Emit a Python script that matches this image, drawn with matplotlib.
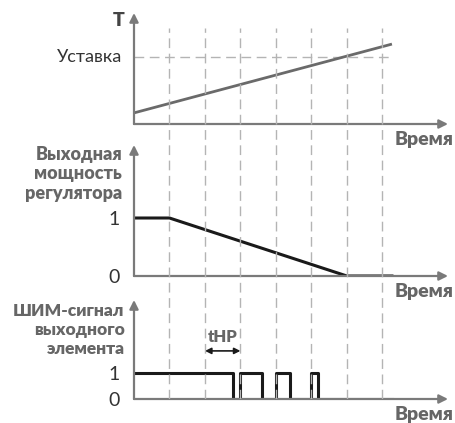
import matplotlib
matplotlib.use('Agg')
import matplotlib.pyplot as plt

plt.rcParams['font.family'] = ['Lato', 'DejaVu Sans']

# time grid (periods of the PWM)
grid_t = [1, 2, 3, 4, 5, 6, 7]
t_end = 7.27
x_max = 8.85

# temperature
temp_t = [0, t_end]
temp_v = [0.10, 0.72]
setpoint = 0.604

# controller output power
power_t = [0, 1, 6, t_end]
power_v = [1, 1, 0, 0]

# PWM output
pwm_t = [0, 2.8, 3, 3.6, 4, 4.4, 5, 5.2, t_end]
pwm_v = [1, 0, 1, 0, 1, 0, 1, 0, 0]

axis_c = '#7a7a7a'
lab_c = '#666666'
grid_c = '#b4b4b4'

fig = plt.figure(figsize=(4.55, 4.23), dpi=100)
W, H = 455, 423


def px_axes(left, top, right, bottom):
    return fig.add_axes([left / W, 1 - bottom / H, (right - left) / W, (bottom - top) / H])


ax1 = px_axes(134, 13, 448, 124)
ax2 = px_axes(134, 145, 448, 276)
ax3 = px_axes(134, 300, 448, 399)
over = px_axes(134, 28, 448, 399)

for ax in (ax1, ax2, ax3, over):
    ax.set_xlim(0, x_max)
    for s in ax.spines.values():
        s.set_visible(False)
    ax.set_xticks([])
    ax.patch.set_alpha(0)

ax1.set_ylim(0, 1)
ax2.set_ylim(0, 131 / 58)
ax3.set_ylim(0, 99 / 26)
over.set_ylim(0, 1)
over.axis('off')

# dashed period lines through all panels
over.vlines(grid_t, 0, 1, colors=grid_c, linestyles=(0, (7, 4)), lw=1)

# axes arrows
for ax in (ax1, ax2, ax3):
    arrow = dict(arrowstyle='-|>', color=axis_c, lw=1.6, mutation_scale=13, shrinkA=0, shrinkB=0)
    ax.annotate('', xy=(1, 0), xytext=(0, 0), xycoords='axes fraction', arrowprops=arrow)
    ax.annotate('', xy=(0, 1), xytext=(0, 0), xycoords='axes fraction', arrowprops=arrow)
    ax.text(1.016, -7 / ax.bbox.height, 'Время', transform=ax.transAxes,
            ha='right', va='top', fontsize=14, fontweight='heavy', color=lab_c)

# top: temperature
ax1.set_yticks([])
ax1.hlines(setpoint, 0, 7.3, colors=grid_c, linestyles=(0, (7, 4)), lw=1)
ax1.plot(temp_t, temp_v, color='#6a6a6a', lw=2, solid_capstyle='butt')
ax1.text(-0.038, setpoint, 'Уставка', transform=ax1.get_yaxis_transform(),
         ha='right', va='center', fontsize=13, color='#333333')
ax1.text(-0.05, 0.935, 'T', transform=ax1.transAxes,
         ha='center', va='center', fontsize=14, fontweight='heavy', color='#444444')

# middle: controller output
ax2.plot(power_t, power_v, color='#1a1a1a', lw=2.2)
ax2.set_yticks([0, 1])
ax2.set_yticklabels(['0', '1'], fontsize=14, color='#333333')
ax2.tick_params(axis='y', length=0, pad=10)
ax2.text(-0.038, 0.995, 'Выходная\nмощность\nрегулятора', transform=ax2.transAxes,
         ha='right', va='top', fontsize=13, fontweight='heavy', color=lab_c, linespacing=1.2)

# bottom: PWM signal
ax3.plot(pwm_t, pwm_v, color='#1a1a1a', lw=2.2, drawstyle='steps-post')
ax3.set_yticks([0, 1])
ax3.set_yticklabels(['0', '1'], fontsize=14, color='#333333')
ax3.tick_params(axis='y', length=0, pad=10)
ax3.text(-0.03, 0.97, 'ШИМ-сигнал\nвыходного\nэлемента', transform=ax3.transAxes,
         ha='right', va='top', fontsize=12.5, fontweight='heavy', color=lab_c, linespacing=1.25)

# tHP marker over one period
ax3.annotate('', xy=(3, 1.85), xytext=(2, 1.85),
             arrowprops=dict(arrowstyle='<|-|>', color='#1a1a1a', lw=1.2, mutation_scale=9,
                             shrinkA=0, shrinkB=0))
ax3.text(2.5, 2.4, 'tHP', ha='center', va='center', fontsize=12, fontweight='heavy', color=lab_c)

fig.savefig('out.png', dpi=100)
